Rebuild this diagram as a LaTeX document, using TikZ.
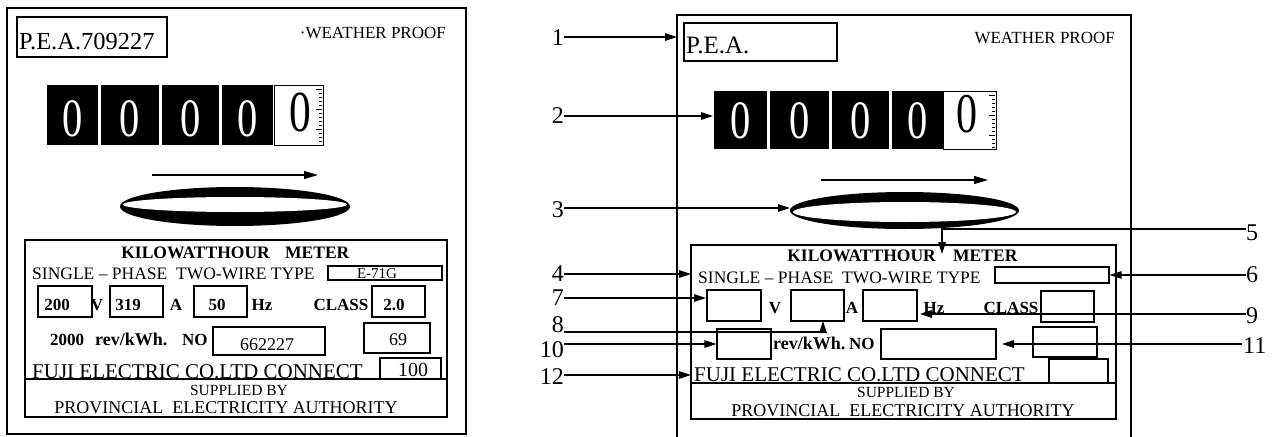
\documentclass[tikz,border=0pt]{standalone}
\usepackage{fontspec}
\setmainfont{Liberation Serif}
\usetikzlibrary{arrows.meta,fit}
\newcommand{\fsz}[1]{\fontsize{#1}{#1}\selectfont}
\begin{document}
\begin{tikzpicture}[x=1pt,y=-1pt,
  frame/.style={line width=2.8pt},
  box/.style={draw,line width=1.1pt,inner sep=0pt},
  ibox/.style={draw,line width=1.4pt,inner sep=0pt},
  blk/.style={fill=black,inner sep=0pt},
  wbox/.style={draw,line width=0.6pt,fill=white,inner sep=0pt},
  arr/.style={line width=1.2pt,-{Triangle[length=12pt,width=7.5pt]}},
  arrb/.style={line width=1.2pt,-{Triangle[length=14pt,width=8pt]}},
  lab/.style={inner sep=0pt,font=\fsz{24}},
  txt/.style={inner sep=0pt},
  digw/.style={inner sep=0pt,text=white,font=\fsz{54}},
  digk/.style={inner sep=0pt,font=\fsz{58}},
  tick/.style={line width=0.6pt}
]
\clip (0,0) rectangle (1273,436);
\fill[white] (0,0) rectangle (1273,436);

% ================= LEFT PANEL =================
\draw[frame] (7,8) rectangle (466,434);
\node[box,fit={(17,17)(167,57)}] (lpea) {};
\node[txt,anchor=base west,font=\fsz{24.5}] (lpeat) at (19,50) {P.E.A.709227};
\node[txt,anchor=base east,font=\fsz{17}] (lwp) at (446,38) {·WEATHER PROOF};

\foreach \a/\b/\n in {47/98/1,101/159/2,162/219/3,222/273/4}{
  \node[blk,fit={(\a,85)(\b,145)}] (ld\n) {};
  \node[digw] at ([yshift=-3.5pt]ld\n.center) {\scalebox{0.75}[1]{0}};
}
\node[wbox,fit={(274,85)(323,145)}] (ld5) {};
\node[digk] (ld5t) at (300,112) {\scalebox{0.75}[1]{0}};
\foreach \i in {0,...,13}{\draw[tick] (322,{89+4*\i}) -- ++(-3,0);}
\foreach \i in {0,5,10}{\draw[tick] (322,{89+4*\i}) -- ++(-6,0);}

\coordinate (lr1) at (152,175);
\coordinate (lr2) at (318,175);
\draw[arrb] (lr1) -- (lr2);
\fill[black] (235,206.5) ellipse [x radius=115pt,y radius=19.5pt];
\fill[white] (235,204.5) ellipse [x radius=112pt,y radius=7.5pt];

\node[ibox,fit={(25,240)(447,417)}] (linner) {};
\draw[line width=1.4pt] (25,379) -- (447,379);
\node[txt,anchor=base east,font=\fsz{17.5}\bfseries] at (270,258) {KILOWATTHOUR};
\node[txt,anchor=base west,font=\fsz{17.5}\bfseries] at (285,258) {METER};
\node[txt,anchor=base west,font=\fsz{17.5}] at (32,279) {SINGLE – PHASE\ \ TWO-WIRE TYPE};
\node[box,fit={(328,266)(442,280)}] (ltype) {};
\node[txt,anchor=base,font=\fsz{15}] at (377,278) {E-71G};

\node[box,fit={(38,286)(92,317)}] (lv) {};
\node[box,fit={(110,286)(163,317)}] (la) {};
\node[box,fit={(194,286)(247,317)}] (lhz) {};
\node[box,fit={(372,286)(425,317)}] (lcl) {};
\node[txt,anchor=base,font=\fsz{17}\bfseries] at (57,310) {200};
\node[txt,anchor=base,font=\fsz{17}\bfseries] at (97,310) {V};
\node[txt,anchor=base,font=\fsz{17}\bfseries] at (128,310) {319};
\node[txt,anchor=base,font=\fsz{17}\bfseries] at (176,310) {A};
\node[txt,anchor=base,font=\fsz{17}\bfseries] at (217,310) {50};
\node[txt,anchor=base,font=\fsz{17}\bfseries] at (262,310) {Hz};
\node[txt,anchor=base,font=\fsz{17}\bfseries] at (341,310) {CLASS};
\node[txt,anchor=base,font=\fsz{17}\bfseries] at (394,310) {2.0};

\node[txt,anchor=base west,font=\fsz{17}\bfseries] at (50,345) {2000};
\node[txt,anchor=base west,font=\fsz{18}\bfseries] at (95,345) {rev/kWh.};
\node[txt,anchor=base west,font=\fsz{17}\bfseries] at (182,345) {NO};
\node[box,fit={(213,327)(325,355)}] (lno) {};
\node[txt,anchor=base,font=\fsz{18}] at (267,350) {662227};
\node[box,fit={(364,323)(430,353)}] (l69) {};
\node[txt,anchor=base,font=\fsz{18}] at (398,345) {69};

\node[txt,anchor=base west,font=\fsz{21}] at (32,378) {FUJI ELECTRIC CO.LTD CONNECT};
\node[box,fit={(380,358)(441,379)}] (l100) {};
\node[txt,anchor=base,font=\fsz{20}] at (413,376) {100};
\node[txt,anchor=base,font=\fsz{15.5}] at (239,395) {SUPPLIED BY};
\node[txt,anchor=base,font=\fsz{18}] at (226,413) {PROVINCIAL\ \ ELECTRICITY AUTHORITY};

% ================= RIGHT PANEL =================
\draw[frame] (677,440) -- (677,15) -- (1131,15) -- (1131,440);
\node[box,fit={(684,23)(837,61)}] (rpea) {};
\node[txt,anchor=base west,font=\fsz{25}] (rpeat) at (686,53) {P.E.A.};
\node[txt,anchor=base east,font=\fsz{17}] (rwp) at (1115,44) {WEATHER PROOF};

\foreach \a/\b/\n in {714/767/1,770/829/2,832/889/3,892/943/4}{
  \node[blk,fit={(\a,91)(\b,149)}] (rd\n) {};
  \node[digw] at ([yshift=-0.5pt]rd\n.center) {\scalebox{0.75}[1]{0}};
}
\node[wbox,fit={(943,91)(996,149)}] (rd5) {};
\node[digk,font=\fsz{56}] (rd5t) at (967,114) {\scalebox{0.75}[1]{0}};
\foreach \i in {0,...,13}{\draw[tick] (995,{95+4*\i}) -- ++(-3,0);}
\foreach \i in {0,5,10}{\draw[tick] (995,{95+4*\i}) -- ++(-6,0);}

\coordinate (rr1) at (821,180);
\coordinate (rr2) at (988,180);
\draw[arrb] (rr1) -- (rr2);
\fill[black] (904.5,210.5) ellipse [x radius=114.5pt,y radius=18.5pt];
\fill[white] (904.5,212) ellipse [x radius=111.5pt,y radius=10pt];

\node[ibox,fit={(691,245)(1116,419)}] (rinner) {};
\draw[line width=1.4pt] (691,383) -- (1116,383);
\node[txt,anchor=base east,font=\fsz{17.5}\bfseries] at (936,261) {KILOWATTHOUR};
\node[txt,anchor=base west,font=\fsz{17.5}\bfseries] at (953,261) {METER};
\node[txt,anchor=base west,font=\fsz{17.5}] at (698,283) {SINGLE – PHASE\ \ TWO-WIRE TYPE};
\node[box,fit={(995,267)(1109,283)}] (rtype) {};

\node[box,fit={(707,290)(761,321)}] (rv) {};
\node[box,fit={(791,290)(844,321)}] (ra) {};
\node[box,fit={(863,290)(917,321)}] (rhz) {};
\node[box,fit={(1041,291)(1094,322)}] (rcl) {};
\node[txt,anchor=base,font=\fsz{17}\bfseries] at (775,313) {V};
\node[txt,anchor=base,font=\fsz{17}\bfseries] at (852,313) {A};
\node[txt,anchor=base,font=\fsz{17}\bfseries] at (934,313) {Hz};
\node[txt,anchor=base,font=\fsz{17}\bfseries] at (1011,313) {CLASS};

\node[box,fit={(717,329)(771,359)}] (r10) {};
\node[txt,anchor=base west,font=\fsz{18}\bfseries] at (773,349) {rev/kWh.};
\node[txt,anchor=base west,font=\fsz{17}\bfseries] at (849,349) {NO};
\node[box,fit={(881,329)(996,359)}] (rno) {};
\node[box,fit={(1033,327)(1097,357)}] (r69) {};

\node[txt,anchor=base west,font=\fsz{21}] at (694,381) {FUJI ELECTRIC CO.LTD CONNECT};
\node[box,fit={(1049,359)(1108,383)}] (r100) {};
\node[txt,anchor=base,font=\fsz{15.5}] at (906,397) {SUPPLIED BY};
\node[txt,anchor=base,font=\fsz{18}] at (903,416) {PROVINCIAL\ \ ELECTRICITY AUTHORITY};

% ----- labels -----
\node[lab,anchor=east] (l1) at (564,38) {1};
\node[lab,anchor=east] (l2) at (564,116) {2};
\node[lab,anchor=east] (l3) at (564,210) {3};
\node[lab,anchor=east] (l4) at (564,274) {4};
\node[lab,anchor=east] (l7) at (564,298) {7};
\node[lab,anchor=east] (l8) at (564,325) {8};
\node[lab,anchor=east] (l10) at (564,350) {10};
\node[lab,anchor=east] (l12) at (564,377) {12};
\node[lab,anchor=west] (l5) at (1246,233) {5};
\node[lab,anchor=west] (l6) at (1246,275) {6};
\node[lab,anchor=west] (l9) at (1246,316) {9};
\node[lab,anchor=west] (l11) at (1243,346) {11};

\coordinate (t1) at (677,37);
\coordinate (t2) at (713,116);
\coordinate (t3) at (790,208);
\coordinate (t4) at (691,274);
\coordinate (t7) at (706,298);
\coordinate (c8) at (823,332);
\coordinate (t8) at (823,321);
\coordinate (t12) at (691,375);
\coordinate (c5) at (942,229);
\coordinate (t5) at (942,254);
\coordinate (t9) at (920,314);
\coordinate (t11) at (1002,344);

\draw[arr] (l1.east |- t1) -- (t1);
\draw[arr] (l2.east |- t2) -- (t2);
\draw[arr] (l3.east |- t3) -- (t3);
\draw[arr] (l4.east |- t4) -- (t4);
\draw[arr] (l7.east |- t7) -- (t7);
\draw[arr] (l8.east |- c8) -- (c8) -- (t8);
\draw[arr] (l10.east |- r10.west) -- (r10.west);
\draw[arr] (l12.east |- t12) -- (t12);
\draw[arr] (l5.west |- c5) -- (c5) -- (t5);
\draw[arr] (l6.west |- rtype.east) -- (rtype.east);
\draw[arr] (l9.west |- t9) -- (t9);
\draw[arr] ([xshift=-1pt]l11.west |- t11) -- (t11);
\end{tikzpicture}
\end{document}
